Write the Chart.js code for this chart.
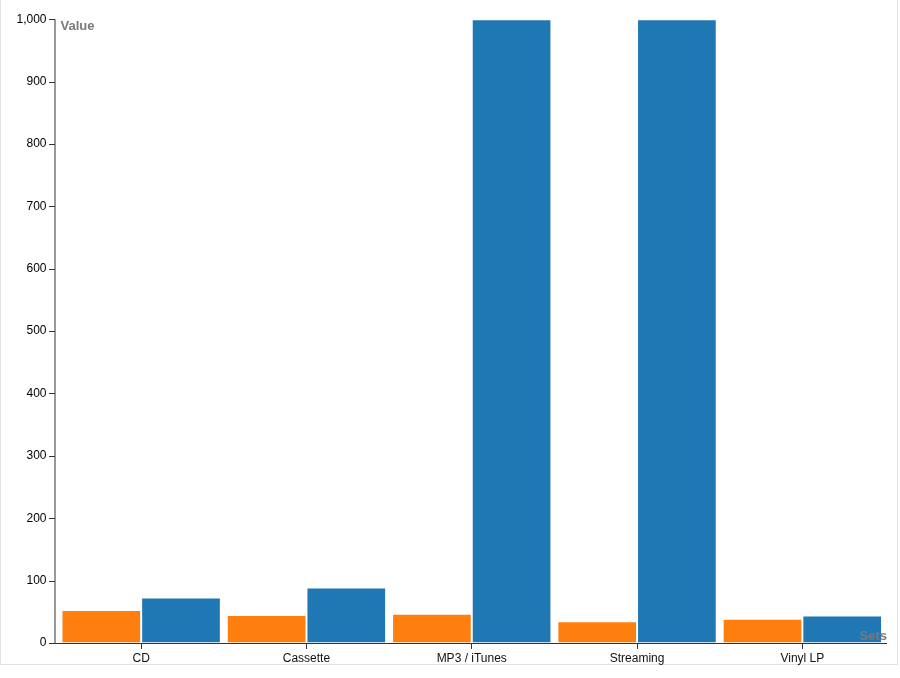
<!DOCTYPE html>
<html>
<head>
<meta charset="utf-8">
<script src="https://cdn.jsdelivr.net/npm/chart.js@4/dist/chart.umd.min.js"></script>
<style>
  body { margin: 0; background: #fff; }
  #wrap { position: relative; width: 900px; height: 678px; }
  #frame { position: absolute; left: 0; top: -1px; width: 898px; height: 666px; border: 1px solid #e3e3e3; box-sizing: border-box; }
  canvas { position: absolute; left: 0; top: 0; }
</style>
</head>
<body>
<div id="wrap">
  <div id="frame"></div>
  <canvas id="myChart" width="900" height="678"></canvas>
</div>
<script>
const categories = ['CD', 'Cassette', 'MP3 / iTunes', 'Streaming', 'Vinyl LP'];
const series1 = [53, 45, 47, 35, 39];
const series2 = [73, 89, 1000, 1000, 44];
const yTicks = [0, 100, 200, 300, 400, 500, 600, 700, 800, 900, 1000];

const fontFam = "'Liberation Sans', Arial, sans-serif";

// axis lines sit a little outside the bar area (d3 style), plus in-plot titles
const axisDecor = {
  id: 'axisDecor',
  afterDatasetsDraw(chart) {
    const ctx = chart.ctx;
    const a = chart.chartArea;
    const y = chart.scales.y;
    const axisX = a.left - 3.5;
    const axisY = Math.round(a.bottom) + 0.5;
    ctx.save();
    ctx.strokeStyle = '#333';
    ctx.lineWidth = 1;
    ctx.beginPath();
    ctx.moveTo(axisX, a.top);
    ctx.lineTo(axisX, axisY);
    ctx.moveTo(axisX, axisY);
    ctx.lineTo(a.right + 2, axisY);
    yTicks.forEach(v => {
      const py = Math.round(y.getPixelForValue(v)) + 0.5;
      ctx.moveTo(axisX - 6, py);
      ctx.lineTo(axisX, py);
    });
    ctx.stroke();

    ctx.font = 'bold 13px ' + fontFam;
    ctx.fillStyle = '#7a7a7a';
    ctx.textBaseline = 'top';
    ctx.textAlign = 'left';
    ctx.fillText('Value', a.left + 2, a.top + 1);
    ctx.textAlign = 'right';
    ctx.textBaseline = 'bottom';
    ctx.fillText('Sets', a.right + 2, a.bottom);
    ctx.restore();
  }
};

const ctx = document.getElementById('myChart').getContext('2d');
const myChart = new Chart(ctx, {
  type: 'bar',
  data: {
    labels: categories,
    datasets: [{
      label: 'Series 1',
      data: series1,
      backgroundColor: '#ff7f0e',
      borderColor: 'rgba(255,255,255,0.6)',
      borderWidth: 1
    }, {
      label: 'Series 2',
      data: series2,
      backgroundColor: '#1f77b4',
      borderColor: 'rgba(255,255,255,0.6)',
      borderWidth: 1
    }]
  },
  options: {
    responsive: false,
    animation: false,
    layout: { padding: { top: 17, right: 15, left: 0, bottom: 0 } },
    plugins: { legend: { display: false }, tooltip: { enabled: false } },
    datasets: { bar: { barPercentage: 1, categoryPercentage: 0.964 } },
    scales: {
      x: {
        grid: { offset: false, drawOnChartArea: false, tickLength: 6, color: '#333' },
        border: { display: false },
        ticks: { color: '#111', font: { family: fontFam, size: 12 }, padding: 2, maxRotation: 0 },
        afterFit(scale) { scale.height = 35; }
      },
      y: {
        min: 0,
        max: 1000,
        afterBuildTicks(scale) { scale.ticks = yTicks.map(v => ({ value: v })); },
        grid: { drawOnChartArea: false, drawTicks: false },
        border: { display: false },
        ticks: {
          color: '#000',
          font: { family: fontFam, size: 12 },
          padding: 12,
          callback: v => v.toLocaleString('en-US')
        },
        afterFit(scale) { scale.width = 58.5; }
      }
    }
  },
  plugins: [axisDecor]
});
</script>
</body>
</html>
